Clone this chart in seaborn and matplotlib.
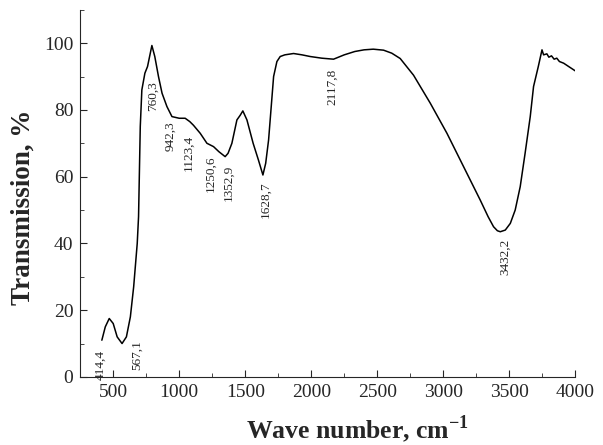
import matplotlib
matplotlib.use("Agg")
import numpy as np
import pandas as pd
import matplotlib.pyplot as plt
from matplotlib.ticker import MultipleLocator
import seaborn as sns

sns.set_style('ticks')
plt.rcParams['font.family'] = ['Liberation Serif', 'DejaVu Serif']
plt.rcParams['mathtext.fontset'] = 'custom'
plt.rcParams['mathtext.rm'] = 'Liberation Serif'

# IR spectrum
wave = [414, 440, 470, 500, 530, 567, 600, 630, 655, 682, 692, 705, 717, 740,
        760, 793, 815, 843, 870, 907, 945, 1000, 1045, 1080, 1108, 1159, 1210,
        1260, 1300, 1348, 1370, 1399, 1437, 1462, 1482, 1513, 1560, 1600, 1634,
        1655, 1677, 1715, 1740, 1765, 1800, 1866, 1930, 1992, 2080, 2169, 2250,
        2330, 2400, 2470, 2548, 2610, 2674, 2775, 2902, 3028, 3154, 3280, 3340,
        3381, 3410, 3432, 3470, 3508, 3545, 3583, 3620, 3659, 3684, 3720, 3748,
        3760, 3785, 3800, 3820, 3840, 3860, 3880, 3912, 3950, 4000]
trans = [11, 15, 17.5, 16, 12, 10, 12, 18, 27, 40, 48, 75, 86, 91,
         93, 99.3, 96, 90, 85, 81, 78, 77.5, 77.5, 76.5, 75.4, 73, 70,
         69, 67.5, 66, 67, 70, 77, 78.4, 79.7, 77, 70, 65, 60.5,
         64, 71, 90, 94.5, 96, 96.5, 96.9, 96.5, 96, 95.5, 95.2, 96.5,
         97.5, 98, 98.2, 97.9, 97, 95.4, 90.4, 82, 73, 63, 53, 48,
         45, 43.8, 43.5, 44, 46, 50, 57, 67, 78, 87, 93, 98,
         96.5, 96.8, 95.8, 96.2, 95.2, 95.5, 94.5, 94, 93, 91.7]

# peak labels and where they sit
peak_text = ['414,4', '567,1', '760,3', '942,3', '1123,4', '1250,6',
             '1352,9', '1628,7', '2117,8', '3432,2']
peak_x = [401, 682, 803, 932, 1068, 1235, 1371, 1652, 2159, 3470]
peak_y = [3.6, 6.6, 84, 72, 67, 61, 58, 53, 87, 36]

df = pd.DataFrame({'wave': wave, 'trans': trans})

fig = plt.figure(figsize=(6.03, 4.45), dpi=100)
ax = fig.add_axes([0.133, 0.153, 0.821, 0.825])
sns.lineplot(data=df, x='wave', y='trans', color='black', linewidth=1.1,
             sort=False, ax=ax)

for t, x, y in zip(peak_text, peak_x, peak_y):
    ax.text(x, y, t, rotation=90, ha='center', va='center', fontsize=9.5)

ax.set_xlim(250, 4000)
ax.set_ylim(0, 110)
ax.xaxis.set_major_locator(MultipleLocator(500))
ax.xaxis.set_minor_locator(MultipleLocator(250))
ax.yaxis.set_major_locator(MultipleLocator(20))
ax.yaxis.set_minor_locator(MultipleLocator(10))
ax.set_yticks([0, 20, 40, 60, 80, 100])
ax.tick_params(which='both', direction='in', labelsize=14)
ax.tick_params(which='major', length=5, pad=5)
ax.tick_params(which='minor', length=3)
sns.despine(ax=ax)

ax.set_xlabel('Wave number, cm$^{\\mathregular{-1}}$', fontsize=18.5,
              fontweight='bold')
ax.set_ylabel('Transmission, %', fontsize=19.5, fontweight='bold')
ax.xaxis.set_label_coords(0.56, -0.097)
ax.yaxis.set_label_coords(-0.09, 0.463)

fig.savefig('out.png', dpi=100)
